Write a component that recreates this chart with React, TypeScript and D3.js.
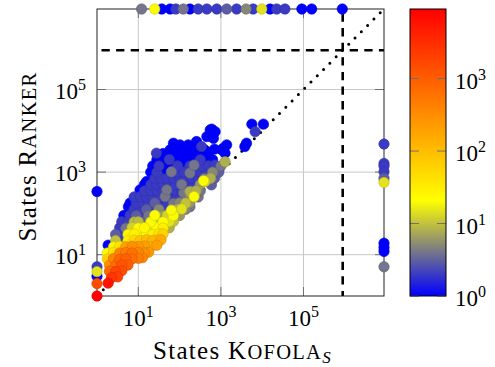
import React from "react";
import * as d3 from "d3";

// Axis limit (timeout / memout value) and the threshold lines
const AXIS_MAX = 8.9e6;
const LIMIT = 8.9e5;
const COUNT_MAX = 9120;

const xTickValues = [10, 1000, 100000];
const yTickValues = [10, 1000, 100000];
const colorTickValues = [1, 10, 100, 1000];

// [Kofola states, Ranker states, number of instances]
const cloudLow: [number, number, number][] = [
  [1.86, 2.05, 6000],
  [2.24, 2.8, 2500], [3.16, 2.9, 2000],
  [2.0, 4.0, 800], [2.82, 3.9, 1800], [3.98, 4.1, 1500],
  [2.0, 5.6, 300], [2.82, 5.5, 700], [3.98, 5.7, 1200], [5.62, 5.6, 1000],
  [1.78, 7.9, 60], [2.51, 8.1, 400], [3.55, 7.8, 800], [5.01, 8.0, 900], [7.08, 7.9, 700], [10, 8.2, 500], [12.6, 8.5, 400],
  [1.78, 11, 20], [2.51, 11.5, 40], [3.55, 11, 400], [5.01, 11.3, 500], [7.08, 11, 600], [10, 11.4, 400], [14.1, 11, 300], [17.8, 11.5, 250],
  [1.86, 17, 1], [2.51, 15.5, 25], [3.55, 16, 40], [5.01, 15.6, 200], [7.08, 16, 300], [10, 15.8, 250], [14.1, 16.2, 200], [20, 15.6, 150], [28.2, 17, 200],
  [2.82, 22, 10], [3.98, 23, 2], [5.62, 22, 30], [7.94, 22.5, 50], [11.2, 22, 80], [15.8, 23, 100], [22.4, 22, 120], [28.2, 22.8, 80], [35.5, 23, 150],
  [2.82, 31, 3], [3.98, 32, 2], [5.62, 31, 25], [7.94, 32, 30], [11.2, 31, 20], [15.8, 32, 25], [22.4, 31, 30], [31.6, 32, 40], [39.8, 32, 60],
];

const cloudMid: [number, number, number][] = [
  [3.55, 45, 2], [5.01, 44, 4], [7.08, 46, 12], [10, 44, 20], [14.1, 45, 25], [20, 44, 15], [28.2, 46, 20], [39.8, 44, 30], [56.2, 45, 8],
  [3.98, 63, 2], [5.62, 64, 2], [7.94, 62, 9], [10, 63, 9], [14.1, 64, 3], [20, 62, 20], [28.2, 64, 10], [39.8, 62, 20], [56.2, 63, 15], [70.8, 64, 10],
  [4.47, 89, 1], [6.31, 90, 2], [8.91, 88, 3], [12.6, 90, 2], [17.8, 88, 4], [25.1, 90, 20], [35.5, 88, 6], [50.1, 90, 12], [70.8, 89, 20], [100, 89, 6],
  [5.75, 145, 1], [7.94, 125, 2], [11.2, 128, 2], [15.8, 124, 3], [22.4, 127, 2], [31.6, 125, 5], [44.7, 127, 2], [63.1, 120, 20], [89.1, 126, 8], [112, 128, 15], [141, 126, 5], [178, 145, 4],
  [6.31, 178, 1], [8.91, 176, 2], [12.6, 180, 2], [17.8, 175, 2], [25.1, 180, 3], [35.5, 176, 2], [50.1, 180, 2], [70.8, 174, 4], [100, 180, 5], [141, 176, 10], [178, 182, 6],
  [7.94, 251, 2], [11.2, 255, 2], [15.8, 248, 2], [22.4, 252, 2], [31.6, 250, 2], [44.7, 257, 4], [63.1, 248, 2], [89.1, 252, 2], [126, 310, 4], [178, 250, 5], [224, 255, 20], [282, 250, 4],
  [11, 372, 1], [14.1, 350, 2], [20, 360, 2], [28.2, 352, 2], [39.8, 358, 2], [49, 372, 4], [56.2, 350, 2], [79.4, 356, 2], [112, 350, 2], [178, 340, 8], [251, 356, 8], [316, 350, 4],
];

const cloudHigh: [number, number, number][] = [
  [14.1, 501, 1], [20, 495, 2], [28.2, 505, 2], [39.8, 498, 2], [56.2, 503, 2], [79.4, 497, 2], [112, 505, 4], [158, 498, 2], [224, 503, 2], [316, 497, 6], [380, 620, 20], [410, 590, 12], [589, 490, 3],
  [15.8, 590, 1], [25.1, 700, 2], [35.5, 715, 2], [50.1, 705, 2], [70.8, 712, 2], [100, 700, 2], [141, 710, 2], [200, 705, 2], [282, 712, 2], [398, 700, 4], [562, 708, 8], [708, 720, 3],
  [20, 1000, 1], [28.2, 990, 2], [39.8, 1010, 1], [63.1, 1020, 4], [89.1, 995, 2], [126, 1005, 2], [178, 950, 4], [224, 1040, 2], [316, 990, 2], [447, 1010, 2], [631, 995, 5], [891, 1000, 3],
  [22.4, 1410, 1], [31.6, 1400, 2], [44.7, 1420, 1], [63.1, 1400, 1], [89.1, 1420, 2], [126, 1400, 1], [178, 1410, 2], [224, 1480, 4], [355, 1400, 2], [501, 1420, 2], [708, 1480, 2], [1000, 1410, 4],
  [28.2, 2000, 1], [39.8, 1980, 1], [56.2, 2020, 2], [79.4, 1990, 1], [112, 2010, 1], [158, 1990, 1], [224, 2010, 1], [316, 1990, 2], [447, 2010, 1], [631, 1990, 1], [1260, 1780, 8],
];

const cloudTop: [number, number, number][] = [
  [27.5, 2880, 2], [31, 1950, 1], [36, 2340, 1], [40, 2820, 1], [50, 2500, 1], [59, 3470, 1], [63, 2800, 1],
  [71, 5000, 1], [75, 2900, 1], [85, 3800, 1], [102, 4570, 1], [110, 2900, 1], [135, 3400, 1], [162, 4570, 1],
  [180, 3000, 1], [200, 4000, 1], [257, 5500, 1], [240, 3300, 1], [339, 4170, 2], [316, 2900, 1], [400, 3500, 1],
  [457, 7240, 1], [501, 3000, 1], [550, 10500, 1], [600, 11000, 1], [660, 6600, 1], [724, 9550, 1], [700, 3600, 1],
  [1050, 3470, 1], [1150, 3800, 1], [1380, 4570, 1], [1260, 2880, 1],
  [3800, 4170, 1], [4170, 5010, 1], [5620, 14500, 1], [10700, 14500, 1], [6760, 9550, 2],
];

// Ranker timed out: [Kofola states, instances]
const rankerTimeouts: [number, number][] = [
  [12, 4], [25, 20], [37, 1], [59, 1], [81, 2], [123, 4], [178, 1], [282, 2], [457, 2], [794, 2],
  [1380, 3], [2400, 2], [4070, 5], [6030, 2], [9770, 15], [15500, 1], [22400, 2], [35500, 2],
  [91200, 1], [158000, 1], [871000, 1],
];

// Kofola timed out: [Ranker states, instances]
const kofolaTimeouts: [number, number][] = [
  [4790, 2], [1620, 2], [1400, 2], [1020, 2], [708, 3], [562, 15], [19, 1], [15, 1], [12, 1], [5.1, 4],
];

// Kofola with a single state: [Ranker states, instances]
const kofolaSingle: [number, number][] = [
  [339, 1], [5.1, 2], [3.9, 15], [3.0, 1], [2.0, 1500], [1, 9000],
];

const FONT = "'Liberation Serif', 'Times New Roman', serif";

export default function App() {
  const L = 97, R = 384, T = 9, B = 296;
  const x = d3.scaleLog().domain([1, AXIS_MAX]).range([L, R]);
  const y = d3.scaleLog().domain([1, AXIS_MAX]).range([B, T]);
  const cpos = d3.scaleLog().domain([1, COUNT_MAX]).range([0, 1]).clamp(true);
  const cmap = d3
    .scaleLinear<string>()
    .domain([0, 1 / 6, 1 / 3, 1])
    .range(["#0000ff", "#808080", "#ffff00", "#ff0000"])
    .interpolate(d3.interpolateRgb);
  const color = (c: number) => cmap(cpos(c));

  const CB_L = 410, CB_R = 446;
  const cb = d3.scaleLog().domain([1, COUNT_MAX]).range([B, T]);

  const pts: [number, number, number][] = [
    ...cloudLow,
    ...cloudMid,
    ...cloudHigh,
    ...cloudTop,
    ...rankerTimeouts.map(([k, c]) => [k, AXIS_MAX, c] as [number, number, number]),
    ...kofolaTimeouts.map(([r, c]) => [AXIS_MAX, r, c] as [number, number, number]),
    ...kofolaSingle.map(([r, c]) => [1, r, c] as [number, number, number]),
  ];
  const sorted = pts
    .map((p, i) => ({ p, i }))
    .sort((a, b) => a.p[2] - b.p[2] || a.i - b.i)
    .map((d) => d.p);

  const gridColor = "#c8c8c8";
  const tickColor = "#707070";
  const tickLen = 9;

  const supLabel = (v: number) => String(Math.round(Math.log10(v)));

  return (
    <svg
      width={495}
      height={367}
      style={{ position: "absolute", left: 0, top: 0, background: "#fff" }}
      fontFamily={FONT}
    >
      <defs>
        <linearGradient id="cbgrad" x1="0" y1="1" x2="0" y2="0">
          {[0, 1 / 6, 1 / 3, 1].map((s, i) => (
            <stop key={i} offset={s} stopColor={cmap(s)} />
          ))}
        </linearGradient>
      </defs>
      <rect x={0} y={0} width={495} height={367} fill="#fff" />

      {/* grid */}
      {xTickValues.map((t) => (
        <line key={"gx" + t} x1={x(t)} x2={x(t)} y1={T} y2={B} stroke={gridColor} strokeWidth={1} />
      ))}
      {yTickValues.map((t) => (
        <line key={"gy" + t} x1={L} x2={R} y1={y(t)} y2={y(t)} stroke={gridColor} strokeWidth={1} />
      ))}
      {/* ticks */}
      {xTickValues.map((t) => (
        <g key={"tx" + t}>
          <line x1={x(t)} x2={x(t)} y1={B} y2={B - tickLen} stroke={tickColor} strokeWidth={1} />
          <line x1={x(t)} x2={x(t)} y1={T} y2={T + tickLen} stroke={tickColor} strokeWidth={1} />
        </g>
      ))}
      {yTickValues.map((t) => (
        <g key={"ty" + t}>
          <line x1={L} x2={L + tickLen} y1={y(t)} y2={y(t)} stroke={tickColor} strokeWidth={1} />
          <line x1={R} x2={R - tickLen} y1={y(t)} y2={y(t)} stroke={tickColor} strokeWidth={1} />
        </g>
      ))}

      {/* diagonal */}
      <line
        x1={x(1)}
        y1={y(1)}
        x2={x(AXIS_MAX)}
        y2={y(AXIS_MAX)}
        stroke="#000"
        strokeWidth={3}
        strokeLinecap="round"
        strokeDasharray="0 8.9"
      />
      {/* limits */}
      <line x1={L} x2={R} y1={y(LIMIT)} y2={y(LIMIT)} stroke="#000" strokeWidth={2.6} strokeDasharray="8.3 6.3" strokeDashoffset={-4.5} />
      <line x1={x(LIMIT)} x2={x(LIMIT)} y1={T} y2={B} stroke="#000" strokeWidth={2.6} strokeDasharray="8.3 6.3" strokeDashoffset={-4.5} />

      {/* frame */}
      <rect x={L} y={T} width={R - L} height={B - T} fill="none" stroke="#222" strokeWidth={1} />

      {/* points */}
      {sorted.map(([k, r, c], i) => {
        const f = color(c);
        return (
          <circle
            key={i}
            cx={x(k)}
            cy={y(r)}
            r={5.2}
            fill={f}
            stroke={d3.color(f)!.darker(0.5).formatHex()}
            strokeWidth={0.6}
          />
        );
      })}

      {/* x tick labels */}
      {xTickValues.map((t) => (
        <text key={"lx" + t} x={x(t)} y={326} textAnchor="middle" fontSize={23} fill="#000">
          10<tspan fontSize={16} dy={-9}>{supLabel(t)}</tspan>
        </text>
      ))}
      {/* y tick labels */}
      {yTickValues.map((t) => (
        <text key={"ly" + t} x={86} y={y(t) + 9} textAnchor="end" fontSize={23} fill="#000">
          10<tspan fontSize={16} dy={-9}>{supLabel(t)}</tspan>
        </text>
      ))}

      {/* axis labels */}
      <text x={(L + R) / 2 + 2} y={359} textAnchor="middle" fontSize={25} letterSpacing={1.3} fill="#000">
        States K<tspan fontSize={20.5}>OFOLA</tspan>
        <tspan fontSize={17} fontStyle="italic" dy={4}>S</tspan>
      </text>
      <text transform={`translate(36, ${(T + B) / 2 + 4}) rotate(-90)`} textAnchor="middle" fontSize={25} letterSpacing={1.3} fill="#000">
        States R<tspan fontSize={20.5}>ANKER</tspan>
      </text>

      {/* colorbar */}
      <rect x={CB_L} y={T} width={CB_R - CB_L} height={B - T} fill="url(#cbgrad)" />
      {colorTickValues.map((t) => (
        <g key={"cb" + t}>
          <line x1={CB_L} x2={CB_L + tickLen} y1={cb(t)} y2={cb(t)} stroke={tickColor} strokeWidth={1} />
          <line x1={CB_R} x2={CB_R - tickLen} y1={cb(t)} y2={cb(t)} stroke={tickColor} strokeWidth={1} />
          <text x={455} y={cb(t) + 10} fontSize={23} fill="#000">
            10<tspan fontSize={16} dy={-9}>{supLabel(t)}</tspan>
          </text>
        </g>
      ))}
      <rect x={CB_L} y={T} width={CB_R - CB_L} height={B - T} fill="none" stroke="#000" strokeWidth={1} />
    </svg>
  );
}
